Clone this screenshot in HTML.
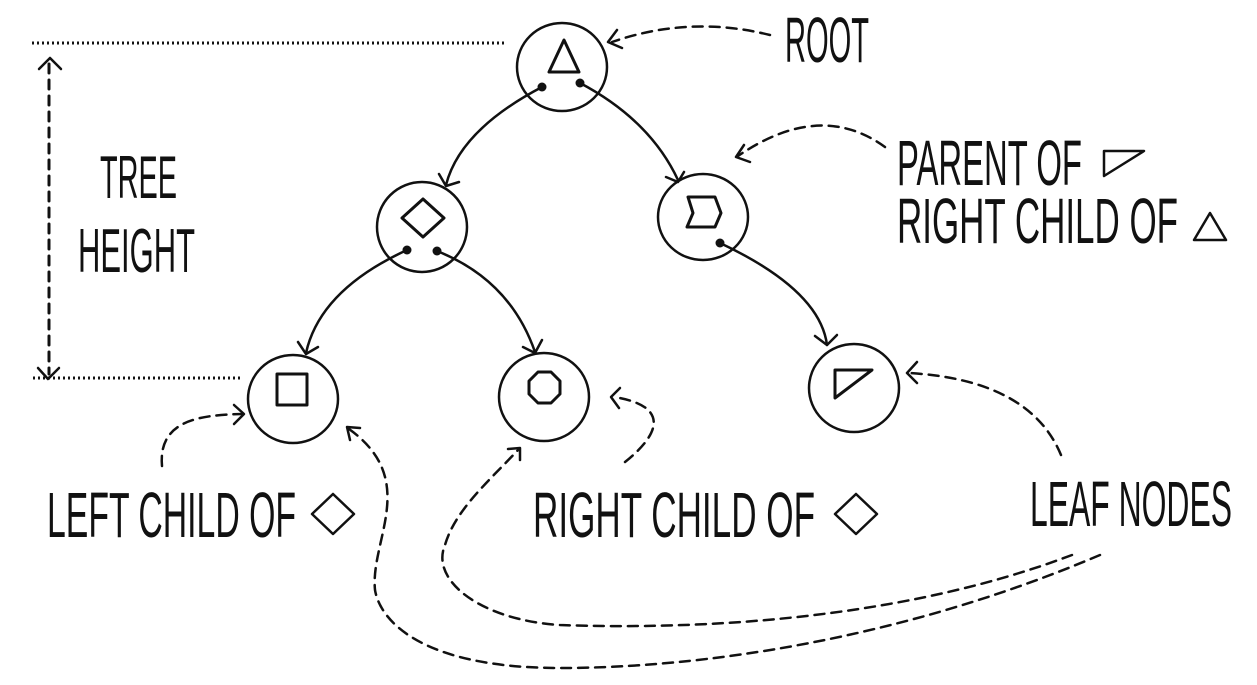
<!DOCTYPE html>
<html><head><meta charset="utf-8"><style>
html,body{margin:0;padding:0;background:#fff;}
svg{display:block;}
text{font-family:"Liberation Sans Narrow","Liberation Sans",sans-serif;font-size:64px;fill:#111;}
</style></head><body>
<svg width="1257" height="685" viewBox="0 0 1257 685" xmlns="http://www.w3.org/2000/svg">
<g fill="none" stroke="#111" stroke-width="2.5" stroke-linecap="round" stroke-linejoin="round">
<!-- dotted lines -->
<line x1="32" y1="43" x2="507" y2="43" stroke-dasharray="2 3" stroke-width="3" stroke-linecap="butt"/>
<line x1="33" y1="378" x2="240" y2="378" stroke-dasharray="2 3" stroke-width="3" stroke-linecap="butt"/>
<!-- tree height arrow -->
<line x1="49" y1="64" x2="49" y2="374" stroke-dasharray="9 7" stroke-width="3"/>
<polyline points="39,69 50,58 61,69"/>
<polyline points="38,368 48,379 59,368"/>
<!-- circles -->
<ellipse cx="562" cy="67" rx="45" ry="44"/>
<ellipse cx="422" cy="227" rx="45" ry="45"/>
<ellipse cx="703" cy="217" rx="45" ry="43"/>
<ellipse cx="293" cy="399" rx="45" ry="44"/>
<ellipse cx="544" cy="397" rx="45" ry="44"/>
<ellipse cx="854" cy="388" rx="45" ry="44"/>
<!-- shapes -->
<polygon points="549,72 579,72 564,40" stroke-width="3"/>
<polygon points="423,199 444,218 423,237 402,218" stroke-width="3"/>
<polygon points="688,197 715,197 721,213 715,227 687,227 693,213" stroke-width="3"/>
<rect x="277" y="374" width="30" height="31" stroke-width="3"/>
<polygon points="538,372 551,372 560,381 560,394 551,403 538,403 529,394 529,381" stroke-width="3"/>
<polygon points="835,370 872,370 835,398" stroke-width="3"/>
<!-- solid arrows -->
<path d="M542,87 Q460,130 446,185"/><polyline points="439,174 446,186 459,182"/>
<path d="M580,83 Q650,120 678,180"/><polyline points="666,177 678,182 684,172"/>
<path d="M407,250 Q320,290 306,353"/><polyline points="298,342 306,354 318,347"/>
<path d="M437,251 Q510,280 535,352"/><polyline points="523,347 535,353 542,340"/>
<path d="M720,243 Q820,290 827,345"/><polyline points="815,336 827,345 837,335"/>
</g>
<g fill="#111">
<circle cx="542" cy="87" r="4.5"/><circle cx="580" cy="83" r="4.5"/>
<circle cx="407" cy="250" r="4.5"/><circle cx="437" cy="251" r="4.5"/>
<circle cx="720" cy="243" r="4.5"/>
</g>
<!-- dashed arrows -->
<g fill="none" stroke="#111" stroke-width="2.5" stroke-linecap="round" stroke-linejoin="round">
<g stroke-dasharray="10 7">
<path d="M770,35 Q690,15 612,42"/>
<path d="M885,147 Q820,100 738,156"/>
<path d="M1061,455 Q1030,380 909,373"/>
<path d="M162,466 C158,420 200,415 242,414"/>
<path d="M625,462 C665,430 665,405 614,397"/>
<path d="M1100,555 C900,640 700,668 560,668 C420,668 380,620 375,590 C370,540 420,480 349,429"/>
<path d="M1072,555 C900,620 700,630 560,625 C480,620 430,580 445,545 C455,510 490,480 518,450"/>
</g>
<polyline points="617,30 608,42 622,48"/>
<polyline points="744,145 736,157 750,162"/>
<polyline points="917,362 907,373 917,383"/>
<polyline points="234,405 244,414 234,424"/>
<polyline points="620,388 611,397 619,408"/>
<polyline points="360,428 347,427 350,440"/>
<polyline points="508,449 520,448 520,460"/>
<!-- text symbols -->
<polygon points="1104,151 1144,151 1104,176" stroke-width="2.5"/>
<polygon points="1210,213 1226,240 1194,240" stroke-width="2.5"/>
<polygon points="333,494 354,514 333,534 312,514" stroke-width="2.5"/>
<polygon points="856,494 877,514 856,534 835,514" stroke-width="2.5"/>
</g>
<text x="785" y="62" textLength="84" lengthAdjust="spacingAndGlyphs">ROOT</text>
<text x="100" y="198" textLength="77" lengthAdjust="spacingAndGlyphs" style="font-size:60px">TREE</text>
<text x="78" y="272" textLength="117" lengthAdjust="spacingAndGlyphs" style="font-size:62px">HEIGHT</text>
<text x="897" y="185" textLength="185" lengthAdjust="spacingAndGlyphs">PARENT OF</text>
<text x="897" y="243" textLength="281" lengthAdjust="spacingAndGlyphs">RIGHT CHILD OF</text>
<text x="47" y="537" textLength="249" lengthAdjust="spacingAndGlyphs">LEFT CHILD OF</text>
<text x="533" y="537" textLength="282" lengthAdjust="spacingAndGlyphs">RIGHT CHILD OF</text>
<text x="1030" y="526" textLength="202" lengthAdjust="spacingAndGlyphs">LEAF NODES</text>
</svg>
</body></html>
